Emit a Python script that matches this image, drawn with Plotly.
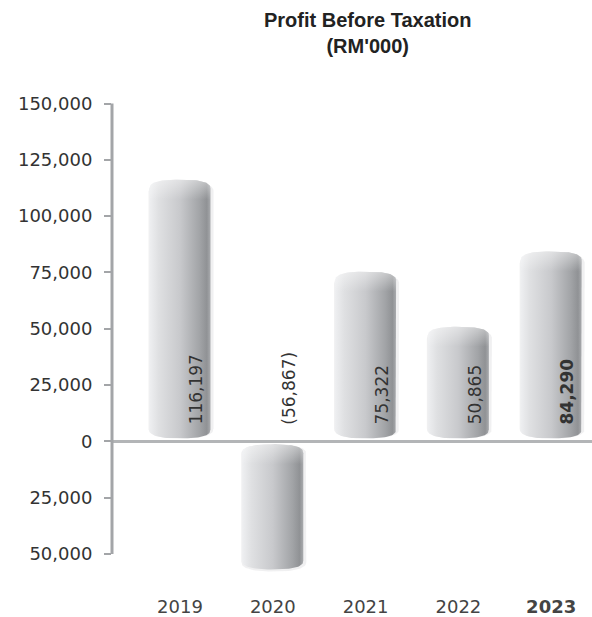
import numpy as np
import plotly.graph_objects as go

# Profit before taxation, RM'000
years = ["2019", "2020", "2021", "2022", "2023"]
profit = [116197, -56867, 75322, 50865, 84290]
highlight_year = "2023"

y_ticks = [-50000, -25000, 0, 25000, 50000, 75000, 100000, 125000, 150000]
y_tick_text = [f"{abs(v):,}" for v in y_ticks]

W, H = 592, 617
M = dict(l=112, r=0, t=99, b=27)
x_range = [-0.733, 4.44]
y_range = [-66000, 152000]

plot_w = W - M["l"] - M["r"]
plot_h = H - M["t"] - M["b"]
# data units per pixel, used to size the cylinders in screen pixels
ux = (x_range[1] - x_range[0]) / plot_w
uy = (y_range[1] - y_range[0]) / plot_h

BODY_SCALE = [
    [0.0, "#eeeff1"],
    [0.15, "#dfe0e2"],
    [0.5, "#c8c9cc"],
    [0.82, "#a2a4a7"],
    [0.94, "#909295"],
    [1.0, "#a9abae"],
]


def cylinder(c, v, half_px=30.5, cap_px=9.0, gap_px=3.0, n=2.6):
    """Outline of a rounded cylinder from zero to v centred on x=c."""
    s = 1 if v >= 0 else -1
    hw = half_px * ux
    ry = cap_px * uy
    base = s * gap_px * uy
    t = np.linspace(0, np.pi, 48)
    cx = np.sign(np.cos(t)) * np.abs(np.cos(t)) ** (2 / n)
    sy = np.abs(np.sin(t)) ** (2 / n)
    ex = c - hw * cx
    ey = v - s * ry + s * ry * sy
    bx = c + hw * cx
    by = base + s * ry - s * ry * sy
    xs = np.concatenate([ex, bx, ex[:1]])
    ys = np.concatenate([ey, by, ey[:1]])
    return xs, ys


def top_cap(c, v, half_px=30.5, cap_px=9.0, gap_px=3.0, n=2.6, depth=2.2):
    """Outline of the visually upper end of a cylinder, for a light sheen."""
    hw = half_px * ux
    ry = cap_px * uy
    top = v if v >= 0 else -gap_px * uy
    t = np.linspace(0, np.pi, 48)
    cx = np.sign(np.cos(t)) * np.abs(np.cos(t)) ** (2 / n)
    sy = np.abs(np.sin(t)) ** (2 / n)
    xs = np.concatenate([c - hw * cx, [c + hw, c - hw, c - hw]])
    ys = np.concatenate([top - ry + ry * sy, [top - depth * ry, top - depth * ry, top - ry]])
    return xs, ys


fig = go.Figure()

for i, (yr, v) in enumerate(zip(years, profit)):
    # soft shadow
    sx, sy_ = cylinder(i + 1.0 * ux, v - 2 * uy, half_px=32.5, cap_px=10)
    fig.add_trace(go.Scatter(
        x=sx, y=sy_, mode="lines", fill="toself",
        fillcolor="rgba(110,112,115,0.10)", line=dict(width=0),
        hoverinfo="skip", showlegend=False,
    ))
    # cylinder body
    bx, by = cylinder(i, v)
    fig.add_trace(go.Scatter(
        x=bx, y=by, mode="lines", fill="toself",
        fillgradient=dict(type="horizontal", colorscale=BODY_SCALE),
        line=dict(width=0), name=yr,
        hovertemplate=f"{yr}: {v:,}<extra></extra>", showlegend=False,
    ))
    # sheen on the upper end
    hx, hy = top_cap(i, v)
    fig.add_trace(go.Scatter(
        x=hx, y=hy, mode="lines", fill="toself",
        fillgradient=dict(type="vertical", colorscale=[
            [0.0, "rgba(255,255,255,0)"], [1.0, "rgba(255,255,255,0.45)"]]),
        line=dict(width=0), hoverinfo="skip", showlegend=False,
    ))

# value labels written upward inside each bar
annotations = []
for i, (yr, v) in enumerate(zip(years, profit)):
    txt = f"{v:,}" if v >= 0 else f"({abs(v):,})"
    if yr == highlight_year:
        txt = f"<b>{txt}</b>"
    annotations.append(dict(
        x=i + 16 * ux, y=0, xref="x", yref="y", yshift=15,
        text=txt, textangle=-90, showarrow=False,
        xanchor="center", yanchor="bottom",
        font=dict(family="DejaVu Sans", size=17, color="#333333"),
    ))

# chart title, two lines above the plot
annotations.append(dict(
    x=(367 - M["l"]) / plot_w, y=1 + (M["t"] - 7) / plot_h,
    xref="paper", yref="paper", xanchor="center", yanchor="top",
    text="<b>Profit Before Taxation<br>(RM'000)</b>", showarrow=False,
    font=dict(family="Liberation Sans", size=20, color="#222222"),
))

x_tick_text = [f"<b>{y}</b>" if y == highlight_year else y for y in years]

fig.update_layout(
    width=W, height=H,
    margin=M,
    paper_bgcolor="white", plot_bgcolor="white",
    xaxis=dict(
        range=x_range, tickvals=list(range(len(years))), ticktext=x_tick_text,
        showgrid=False, zeroline=False, showline=False, ticks="",
        tickfont=dict(family="DejaVu Sans", size=18, color="#444444"),
        ticklabelstandoff=4, fixedrange=True,
    ),
    yaxis=dict(
        range=y_range, tickvals=y_ticks, ticktext=y_tick_text,
        showgrid=False, showline=False,
        ticks="outside", ticklen=7, tickwidth=2, tickcolor="#a3a5a8",
        zeroline=True, zerolinecolor="#b3b5b7", zerolinewidth=3,
        tickfont=dict(family="DejaVu Sans", size=18, color="#333333"),
        ticklabelstandoff=8, fixedrange=True,
    ),
    shapes=[dict(
        type="line", xref="paper", yref="y", x0=0, x1=0,
        y0=y_ticks[0], y1=y_ticks[-1],
        line=dict(color="#a3a5a8", width=3),
    )],
    annotations=annotations,
)

fig.write_html("out.html")
